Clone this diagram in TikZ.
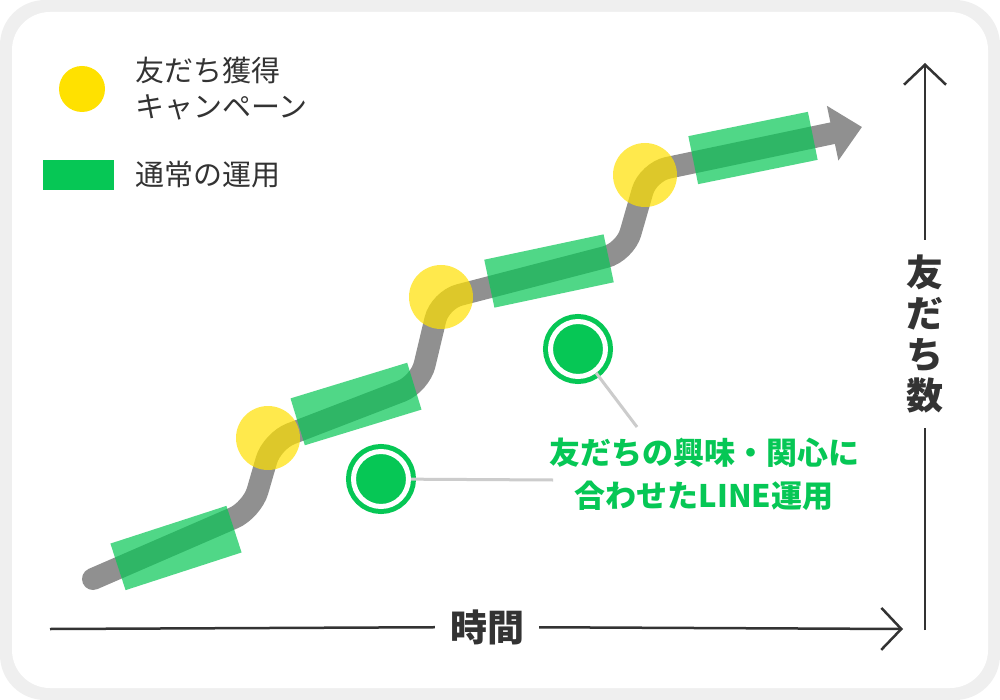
\documentclass[tikz,border=0pt]{standalone}
\usepackage{fontspec}
\setmainfont{Noto Sans CJK JP}
\usepackage{xcolor}
\usepackage{tikz}
\usetikzlibrary{arrows.meta,positioning}

\definecolor{linegreen}{HTML}{06C755}
\definecolor{campyellow}{HTML}{FFE100}
\definecolor{pathgray}{HTML}{909090}
\definecolor{inkgray}{HTML}{333333}
\definecolor{framegray}{HTML}{EFEFEF}
\definecolor{leadgray}{HTML}{CCCCCC}

\begin{document}
\begin{tikzpicture}[
  x=1pt,y=-1pt,
  phase/.style={fill=linegreen,fill opacity=0.7,minimum width=122pt,minimum height=49pt,inner sep=0pt},
  camp/.style={circle,fill=campyellow,fill opacity=0.7,minimum size=64pt,inner sep=0pt},
  ring/.style={circle,fill=linegreen,draw=linegreen,line width=5pt,double=white,double distance=5pt,minimum size=55pt,inner sep=0pt},
  keytext/.style={anchor=west,inner sep=0pt,text=inkgray,font=\fontsize{29}{36}\selectfont,align=left},
  axislabel/.style={text=inkgray,font=\bfseries\fontsize{37}{41}\selectfont,align=center,inner sep=15pt},
  axisline/.style={draw=inkgray,line width=2.5pt},
  lead/.style={draw=leadgray,line width=3pt},
  notetext/.style={text=linegreen,font=\bfseries\fontsize{31}{43}\selectfont,align=center},
  growth/.style={draw=pathgray,line width=22pt,line cap=round,rounded corners=20pt,-{Triangle[length=30pt,width=54pt]}},
  open/.style={-{Straight Barb[length=20pt,width=42pt]}}
]
\useasboundingbox (0,0) rectangle (1000,700);
\fill[framegray,rounded corners=45pt] (0,0) rectangle (1000,700);
\fill[white,rounded corners=38pt] (12,12) rectangle (988,688);

% legend
\node[circle,fill=campyellow,minimum size=46pt,inner sep=0pt] (campkey) at (82,89) {};
\node[keytext,right=30pt of campkey.east] (campname) {友だち獲得\\キャンペーン};
\node[fill=linegreen,minimum width=71pt,minimum height=30pt,inner sep=0pt] (usualkey) at (78.5,175) {};
\node[keytext,right=21pt of usualkey.east] (usualname) {通常の運用};

% growth of friends
\draw[growth] (93,579) -- (252,510) -- (272,441) -- (420,384) -- (440,300)
  -- (625,252) -- (648,172) -- (862,127);

\node[phase,rotate=18] (run1) at (176,548) {};
\node[phase,rotate=17] (run2) at (356,404) {};
\node[phase,rotate=12] (run3) at (549,271) {};
\node[phase,rotate=11.5] (run4) at (753,148) {};

\node[camp] (camp1) at (268,438) {};
\node[camp] (camp2) at (441,297) {};
\node[camp] (camp3) at (645,175) {};

% LINE operation
\node[ring] (dot1) at (381,479) {};
\node[ring] (dot2) at (578,349) {};
\coordinate (end1) at (553,480);
\coordinate (end2) at (637,427);
\draw[lead] (dot1) -- (end1);
\draw[lead] (dot2) -- (end2);
\node[notetext] (note) at (704,474) {友だちの興味・関心に\\合わせたLINE運用};

% axes
\coordinate (t0) at (50,629);
\coordinate (t1) at (903,629);
\node[axislabel] (time) at (487,627) {時間};
\draw[axisline] (t0) -- (time);
\draw[axisline,open] (time) -- (t1);

\coordinate (f0) at (925,630);
\coordinate (f1) at (925,63);
\node[axislabel] (count) at (925,334) {友\\だ\\ち\\数};
\draw[axisline] (f0) -- (count);
\draw[axisline,open] (count) -- (f1);
\end{tikzpicture}
\end{document}
